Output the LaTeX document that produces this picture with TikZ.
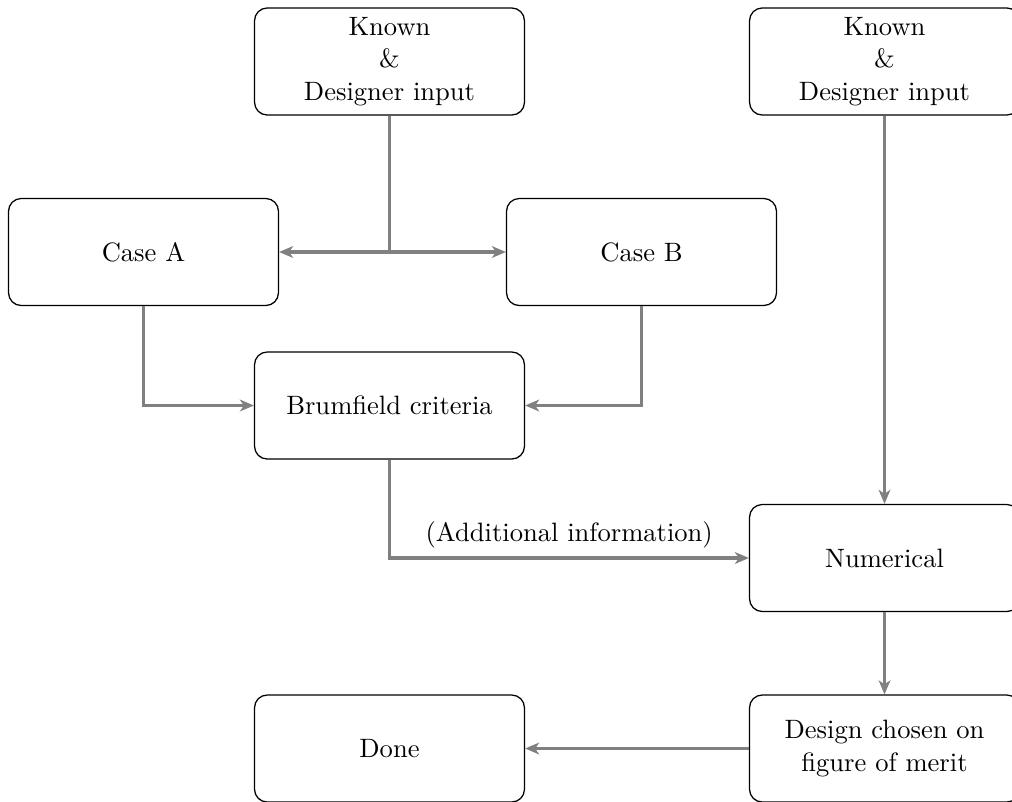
\documentclass[tikz,border=0pt]{standalone}
\usetikzlibrary{arrows.meta}
\begin{document}
\begin{tikzpicture}[x=0.3953pt, y=-0.3953pt,
  txt/.style={font=\fontsize{10.5}{12.8}\selectfont},
  blk/.style={draw, rounded corners=5pt, line width=0.5pt, minimum width=106.7pt,
    minimum height=42.3pt, inner sep=0pt, align=center, txt},
  flow/.style={draw=black!50, line width=1.2pt,
    -{Stealth[length=5.5pt, width=4.6pt, inset=1.5pt]}},
  plain/.style={draw=black!50, line width=1.2pt}]
\clip (0,0) rectangle (1012,801);
% boxes
\node[blk] (k1) at (389.5,61.5) {Known\\\&\\Designer input};
\node[blk] (k2) at (884.5,61.5) {Known\\\&\\Designer input};
\node[blk] (ca) at (143.5,252) {Case A};
\node[blk] (cb) at (641.5,252) {Case B};
\node[blk] (bf) at (389.5,405.5) {Brumfield criteria};
\node[blk] (nu) at (884.5,558) {Numerical};
\node[blk] (dc) at (884.5,748.5) {Design chosen on\\figure of merit};
\node[blk] (dn) at (389.5,748.5) {Done};
% connectors
\coordinate (j) at (k1.south |- ca.east);
\draw[plain] (k1.south) -- (j);
\draw[flow] (j) -- (ca.east);
\draw[flow] (j) -- (cb.west);
\draw[flow] (ca.south) |- (bf.west);
\draw[flow] (cb.south) |- (bf.east);
\draw[flow] (bf.south) |- node[pos=0.75, above, txt] {(Additional information)} (nu.west);
\draw[flow] (k2.south) -- (nu.north);
\draw[flow] (nu.south) -- (dc.north);
\draw[flow] (dc.west) -- (dn.east);
\end{tikzpicture}
\end{document}
